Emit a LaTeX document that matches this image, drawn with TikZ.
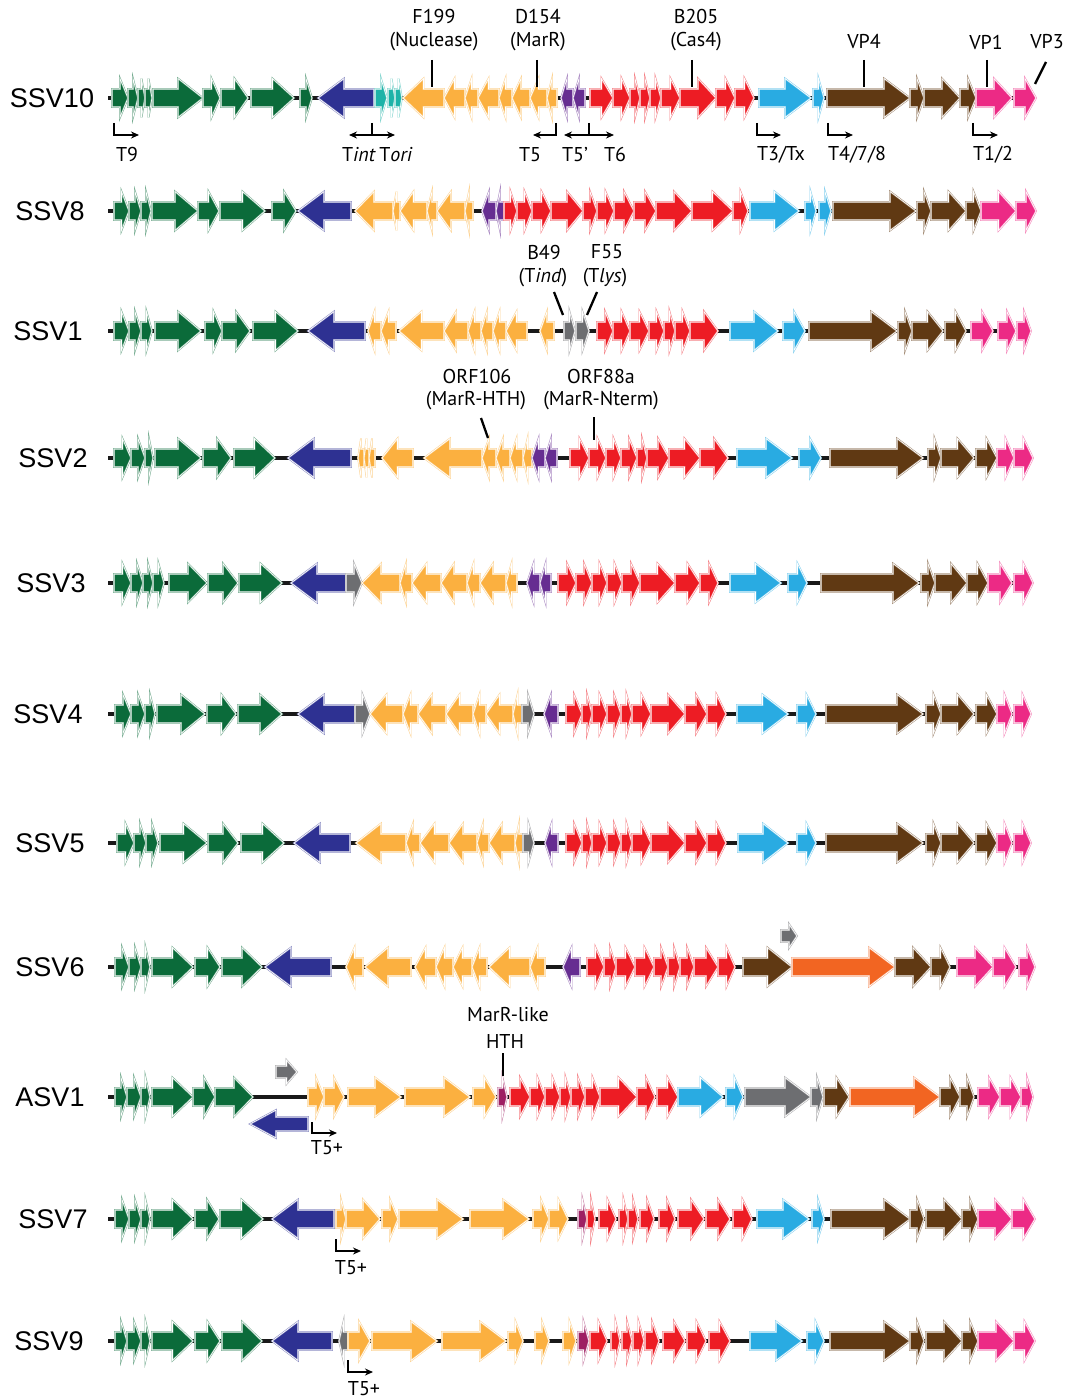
\documentclass[tikz,border=0pt]{standalone}
\usepackage{fontspec}
\setmainfont{PT Sans}
\newfontfamily\rowfont{Liberation Sans}
\usetikzlibrary{arrows.meta}
\definecolor{grn}{HTML}{0B6B3A}
\definecolor{nav}{HTML}{2E3192}
\definecolor{tel}{HTML}{1DB3A8}
\definecolor{orn}{HTML}{FBB040}
\definecolor{pur}{HTML}{662D91}
\definecolor{rd}{HTML}{ED1C24}
\definecolor{cy}{HTML}{29ABE2}
\definecolor{brn}{HTML}{603913}
\definecolor{pk}{HTML}{EC2A85}
\definecolor{gry}{HTML}{6D6E71}
\definecolor{plum}{HTML}{9E1F63}
\definecolor{dorn}{HTML}{F26522}
\tikzset{
 gene/.style={fill=#1, draw=#1!55!white, double=white, double distance=0.6pt, line width=0.55pt},
 backbone/.style={line width=3.5pt, black!90},
 rowlab/.style={font=\rowfont\fontsize{27}{30}\selectfont, anchor=center, inner sep=0pt},
 alab/.style={font=\fontsize{20}{23}\selectfont, anchor=center, inner sep=0pt},
 ann/.style={line width=2.3pt, black},
 prom/.style={line width=1.5pt, -{Stealth[length=8pt,width=7pt]}},
 pline/.style={line width=1.5pt},
}
\def\bh{9}\def\hh{19.5}
\newcommand\gene[4]{%
  \pgfmathsetmacro\hl{min(0.5*(#4-#3),26)}%
  \if#2f%
    \pgfmathsetmacro\xa{#4-\hl}%
    \draw[gene=#1] (#3,\ry-\bh) -- (\xa,\ry-\bh) -- (\xa,\ry-\hh) -- (#4,\ry) -- (\xa,\ry+\hh) -- (\xa,\ry+\bh) -- (#3,\ry+\bh) -- cycle;%
  \else%
    \pgfmathsetmacro\xa{#3+\hl}%
    \draw[gene=#1] (#4,\ry-\bh) -- (\xa,\ry-\bh) -- (\xa,\ry-\hh) -- (#3,\ry) -- (\xa,\ry+\hh) -- (\xa,\ry+\bh) -- (#4,\ry+\bh) -- cycle;%
  \fi}
\newcommand\G[3]{\foreach \a/\b in {#3}{\gene{#1}{#2}{\a}{\b}}}
\begin{document}
\begin{tikzpicture}[x=1pt,y=-1pt]
\fill[white] (0,0) rectangle (1069,1399);
\useasboundingbox (0,0) rectangle (1069,1399);

% ---------------- SSV10
\def\ry{98}
\node[rowlab] (n10) at (52,\ry) {SSV10};
\draw[backbone] (108,\ry) -- (1036,\ry);
\G{grn}{f}{112/128,128/138,138/145,145/152,153/203,203/220,221/248,251/294,300/312}
\G{nav}{r}{318/374}
\G{tel}{f}{375/387,388/395,395/402}
\G{orn}{r}{403/444,444/465,465/478,478/499,499/512,512/530,530/547,547/557}
\G{pur}{r}{561/573,573/585}
\G{rd}{f}{590/613,613/630,630/640,640/650,650/661,661/680,680/716,716/735,735/754}
\G{cy}{f}{759/811,813/824}
\G{brn}{f}{827/910,910/924,924/960,960/976}
\G{pk}{f}{976/1012,1014/1036}
\draw[ann] (432,60) -- (432,87);
\draw[ann] (537,60) -- (537,87);
\draw[ann] (692,60) -- (692,87);
\draw[ann] (864,60) -- (864,87);
\draw[ann] (987,60) -- (987,87);
\draw[ann] (1046,62) -- (1035,84);
\node[alab] (f199) at (434,17) {F199};
\node[alab] (nuc) at (434,42) {(Nuclease)};
\node[alab] (d154) at (538,17) {D154};
\node[alab] (marr) at (538,42) {(MarR)};
\node[alab] (b205) at (696,17) {B205};
\node[alab] (cas4) at (696,42) {(Cas4)};
\node[alab] (vp4) at (864,42) {VP4};
\node[alab] (vp1) at (986,42) {VP1};
\node[alab] (vp3) at (1047,42) {VP3};
% promoters
\draw[prom] (114,123) -- (114,135) -- (139,135);
\node[alab] (t9) at (127,155) {T9};
\draw[pline] (372,123) -- (372,135);
\draw[prom] (372,135) -- (349,135);
\draw[prom] (372,135) -- (395,135);
\node[alab] (tint) at (359,155) {T\textit{int}};
\node[alab] (tori) at (396,155) {T\textit{ori}};
\draw[prom] (556,123) -- (556,135) -- (533,135);
\node[alab] (t5) at (530,155) {T5};
\draw[pline] (589,123) -- (589,135);
\draw[prom] (589,135) -- (564,135);
\draw[prom] (589,135) -- (614,135);
\node[alab] (t5p) at (575,155) {T5’};
\node[alab] (t6) at (615,155) {T6};
\draw[prom] (757,123) -- (757,135) -- (781,135);
\node[alab] (t3) at (781,155) {T3/Tx};
\draw[prom] (828,123) -- (828,135) -- (853,135);
\node[alab] (t4) at (857,155) {T4/7/8};
\draw[prom] (973,123) -- (973,135) -- (998,135);
\node[alab] (t12) at (993,155) {T1/2};

% ---------------- SSV8
\def\ry{211}
\node[rowlab] (n8) at (50,\ry) {SSV8};
\draw[backbone] (108,\ry) -- (1036,\ry);
\G{grn}{f}{114/129,129/141,141/151,152/198,198/219,220/265,272/296}
\G{nav}{r}{298/351}
\G{orn}{r}{355/393,393/400,400/427,427/437,437/465,465/473}
\G{pur}{r}{482/496,496/504}
\G{rd}{f}{504/517,517/532,532/551,551/583,583/597,597/614,614/634,634/656,656/692,692/733,733/748}
\G{cy}{f}{750/799,805/816,819/831}
\G{brn}{f}{833/916,917/931,931/966,966/981}
\G{pk}{f}{981/1016,1016/1036}

% ---------------- SSV1
\def\ry{331}
\node[rowlab] (n1) at (48,\ry) {SSV1};
\draw[backbone] (108,\ry) -- (1031,\ry);
\G{grn}{f}{114/129,129/141,141/152,155/201,205/222,222/250,253/298}
\G{nav}{r}{308/365}
\G{orn}{r}{368/381,381/396,399/444,444/468,468/481,481/493,493/506,506/527,540/554}
\G{gry}{f}{564/575,576/589}
\G{rd}{f}{597/613,613/630,630/649,649/664,664/675,675/690,690/718}
\G{cy}{f}{730/778,783/805}
\G{brn}{f}{809/897,898/912,912/943,945/966}
\G{pk}{f}{971/993,998/1016,1017/1031}
\draw[ann] (554,292) -- (563,315);
\draw[ann] (597,292) -- (587,315);
\node[alab] (b49) at (544,252) {B49};
\node[alab] (tind) at (543,278) {(T\textit{ind})};
\node[alab] (f55) at (607,252) {F55};
\node[alab] (tlys) at (605,278) {(T\textit{lys})};

% ---------------- SSV2
\def\ry{458}
\node[rowlab] (n2) at (53,\ry) {SSV2};
\draw[backbone] (108,\ry) -- (1033,\ry);
\G{grn}{f}{114/131,131/145,145/153,155/201,203/231,234/275}
\G{nav}{r}{288/351}
\G{orn}{r}{358/364,364/369,369/375,382/413,424/482,482/496,496/510,510/523,523/532}
\G{pur}{r}{532/545,545/557}
\G{rd}{f}{570/589,589/606,606/621,621/637,637/647,647/669,669/700,700/728}
\G{cy}{f}{737/792,799/821}
\G{brn}{f}{830/923,928/941,941/974,976/997}
\G{pk}{f}{997/1014,1014/1033}
\draw[ann] (481,418) -- (488,438);
\draw[ann] (594,417) -- (594,440);
\node[alab] (orf106) at (477,376) {ORF106};
\node[alab] (hth) at (476,401) {(MarR-HTH)};
\node[alab] (orf88) at (601,376) {ORF88a};
\node[alab] (nterm) at (601,401) {(MarR-Nterm)};

% ---------------- SSV3
\def\ry{583}
\node[rowlab] (n3) at (51,\ry) {SSV3};
\draw[backbone] (108,\ry) -- (1033,\ry);
\G{grn}{f}{114/131,131/143,143/153,153/164,169/207,208/238,239/282}
\G{nav}{r}{291/346}
\G{gry}{f}{346/362}
\G{orn}{r}{362/400,400/412,412/441,441/467,467/480,480/506,506/517}
\G{pur}{r}{527/540,540/551}
\G{rd}{f}{558/576,576/592,592/607,607/622,622/640,640/675,675/700,700/718}
\G{cy}{f}{730/781,788/807}
\G{brn}{f}{821/919,921/935,935/967,967/988}
\G{pk}{f}{988/1012,1014/1033}

% ---------------- SSV4
\def\ry{714}
\node[rowlab] (n4) at (48,\ry) {SSV4};
\draw[backbone] (108,\ry) -- (1031,\ry);
\G{grn}{f}{115/131,131/145,145/155,157/205,207/236,238/282}
\G{nav}{r}{298/355}
\G{gry}{f}{355/370}
\G{orn}{r}{370/403,403/418,418/446,446/473,473/486,486/513,513/522}
\G{gry}{f}{522/534}
\G{pur}{r}{544/558}
\G{rd}{f}{566/582,582/592,592/607,607/621,621/632,632/651,651/685,685/707,707/726}
\G{cy}{f}{737/788,797/816}
\G{brn}{f}{826/923,926/941,941/974,976/997}
\G{pk}{f}{997/1012,1014/1031}

% ---------------- SSV5
\def\ry{843}
\node[rowlab] (n5) at (50,\ry) {SSV5};
\draw[backbone] (108,\ry) -- (1031,\ry);
\G{grn}{f}{117/134,134/146,146/158,160/207,208/238,241/284}
\G{nav}{r}{294/350}
\G{orn}{r}{356/406,406/420,420/449,449/477,477/489,489/515,515/523}
\G{gry}{f}{523/534}
\G{pur}{r}{545/558}
\G{rd}{f}{566/582,582/592,592/607,607/621,621/632,632/651,651/685,685/707,707/726}
\G{cy}{f}{738/788,797/816}
\G{brn}{f}{826/923,926/941,941/974,976/997}
\G{pk}{f}{997/1012,1014/1031}

% ---------------- SSV6
\def\ry{967}
\node[rowlab] (n6) at (50,\ry) {SSV6};
\draw[backbone] (108,\ry) -- (1035,\ry);
\G{grn}{f}{115/129,129/141,141/150,152/193,195/220,222/262}
\G{nav}{r}{265/331}
\G{orn}{r}{346/363,365/411,415/436,436/453,453/472,472/487,489/530,530/545}
\G{pur}{r}{563/580}
\G{rd}{f}{587/604,604/616,616/635,635/654,654/668,668/680,680/694,694/718,718/735}
\G{brn}{f}{743/792}
\G{dorn}{f}{792/895}
\G{brn}{f}{895/931,931/950}
\G{pk}{f}{957/993,993/1016,1019/1035}
\begin{scope}
\def\ry{936}\def\bh{6}\def\hh{12}
\G{gry}{f}{781/797}
\end{scope}

% ---------------- ASV1
\def\ry{1097}
\node[rowlab] (na1) at (50,\ry) {ASV1};
\draw[backbone] (108,\ry) -- (1033,\ry);
\G{grn}{f}{115/127,127/141,141/150,152/193,193/215,215/253}
\G{orn}{f}{308/324,324/344,348/401,405/470,473/496}
\G{plum}{f}{498/507}
\G{rd}{f}{510/530,530/545,545/560,560/571,571/585,585/600,600/637,637/655,657/678}
\G{cy}{f}{678/723,726/743}
\G{gry}{f}{745/811,811/823}
\G{brn}{f}{824/849}
\G{dorn}{f}{850/940}
\G{brn}{f}{940/960,960/974}
\G{pk}{f}{978/1000,1000/1021,1021/1033}
\begin{scope}
\def\ry{1072}\def\bh{6}\def\hh{12}
\G{gry}{f}{276/297}
\end{scope}
\begin{scope}
\def\ry{1124}\def\bh{7}\def\hh{14}
\G{nav}{r}{250/308}
\end{scope}
\draw[ann] (503,1053) -- (503,1076);
\node[alab] (marl) at (508,1015) {MarR-like};
\node[alab] (hth2) at (505,1041) {HTH};
\draw[prom] (312,1122) -- (312,1133) -- (337,1133);
\node[alab] (t5a) at (327,1148) {T5+};

% ---------------- SSV7
\def\ry{1219}
\node[rowlab] (n7) at (53,\ry) {SSV7};
\draw[backbone] (108,\ry) -- (1035,\ry);
\G{grn}{f}{115/129,129/141,141/150,152/193,195/219,220/263}
\G{nav}{r}{272/334}
\G{orn}{f}{336/346,346/380,382/398,399/463,470/529,533/549,549/568}
\G{plum}{f}{578/587}
\G{rd}{f}{587/595,599/616,619/628,628/638,640/654,659/675,678/704,706/730,733/752}
\G{cy}{f}{757/809,812/824}
\G{brn}{f}{831/910,910/924,926/962,962/978}
\G{pk}{f}{978/1012,1012/1035}
\draw[prom] (336,1239) -- (336,1251) -- (361,1251);
\node[alab] (t5b) at (351,1268) {T5+};

% ---------------- SSV9
\def\ry{1341}
\node[rowlab] (n9) at (49,\ry) {SSV9};
\draw[backbone] (108,\ry) -- (1035,\ry);
\G{grn}{f}{115/127,127/141,141/150,152/193,195/220,222/262}
\G{nav}{r}{272/332}
\G{gry}{r}{339/348}
\G{orn}{f}{348/370,372/437,442/506,508/523,535/549,563/576}
\G{plum}{f}{578/589}
\G{rd}{f}{590/607,611/620,622/632,633/644,645/659,663/685,687/706,709/730}
\G{cy}{f}{750/802,807/824}
\G{brn}{f}{830/910,910/924,926/962,962/978}
\G{pk}{f}{978/1014,1014/1035}
\draw[prom] (348,1360) -- (348,1372) -- (373,1372);
\node[alab] (t5c) at (364,1389) {T5+};
\end{tikzpicture}
\end{document}
